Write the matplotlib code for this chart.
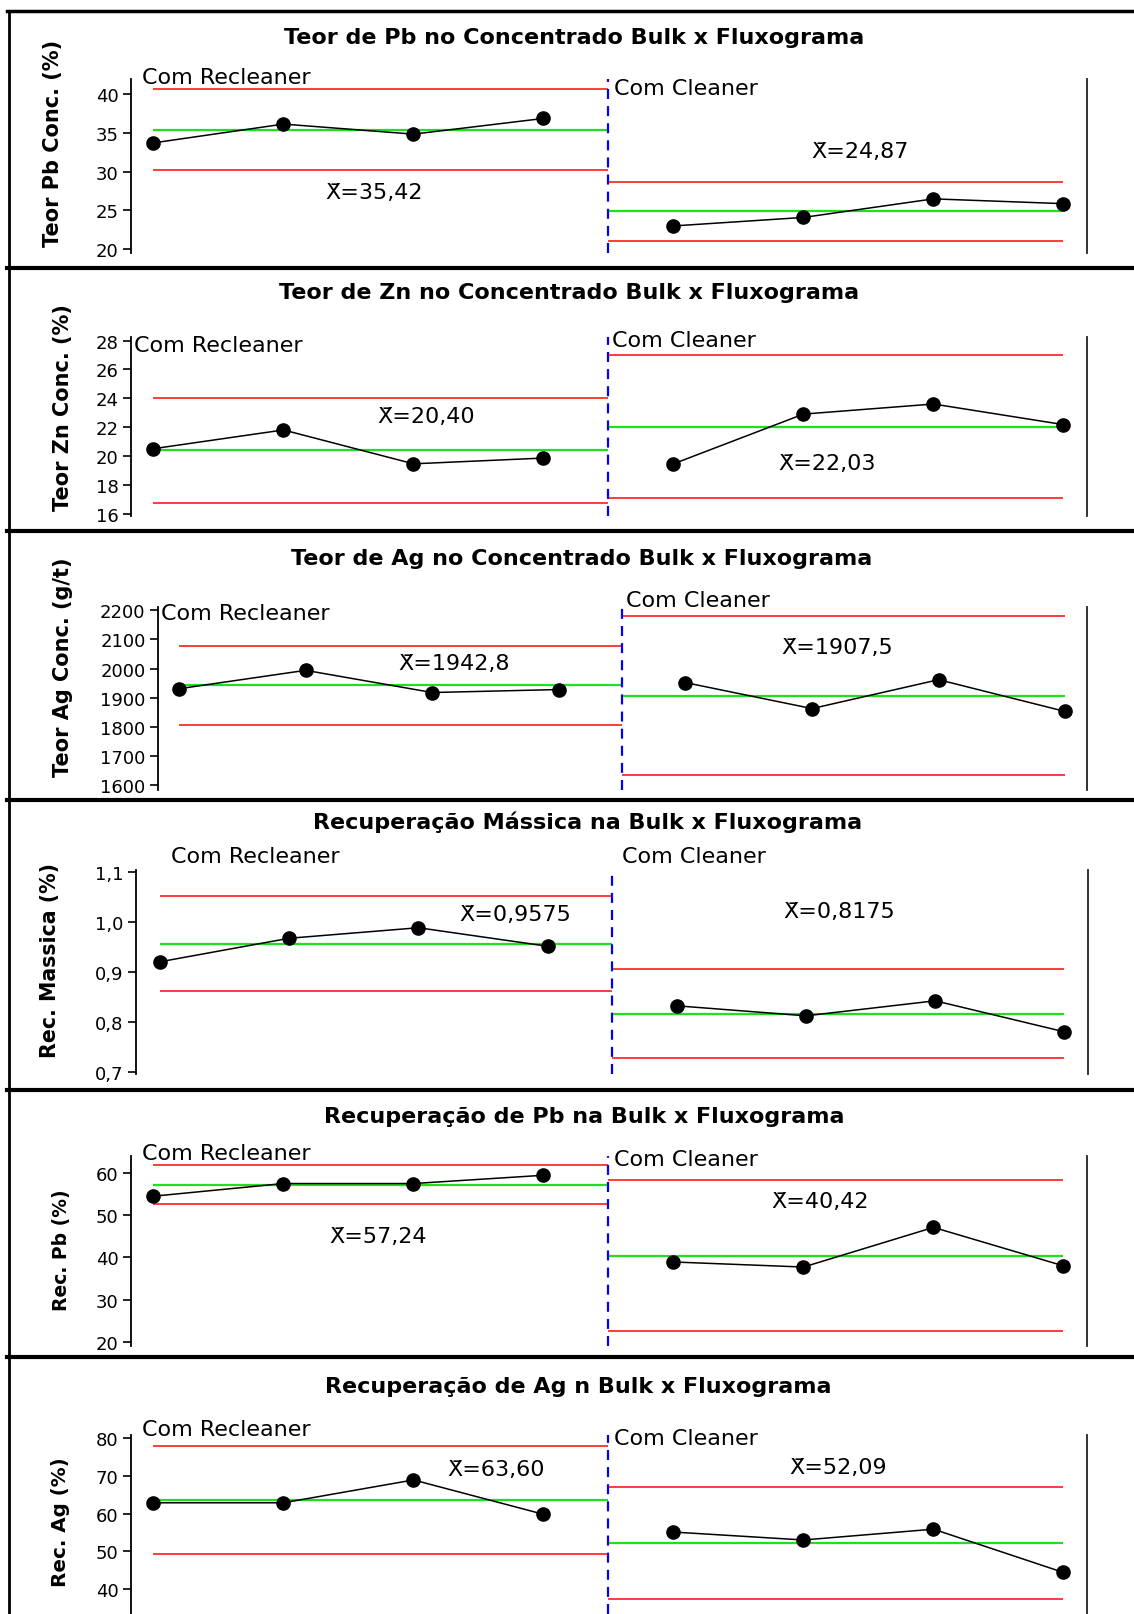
import matplotlib
matplotlib.use('Agg')
import matplotlib.pyplot as plt
from matplotlib import ticker
from matplotlib.lines import Line2D

# dados: 4 amostras com Recleaner e 4 com Cleaner
pb_rec = [33.74, 36.17, 34.87, 36.90]
pb_cln = [23.00, 24.10, 26.50, 25.88]
pb_mean = [35.42, 24.87]
pb_ucl = [40.65, 28.67]
pb_lcl = [30.20, 21.07]

zn_rec = [20.50, 21.80, 19.45, 19.85]
zn_cln = [19.45, 22.90, 23.60, 22.17]
zn_mean = [20.40, 22.03]
zn_ucl = [24.05, 26.98]
zn_lcl = [16.75, 17.08]

ag_rec = [1931, 1994, 1918, 1928.2]
ag_cln = [1952, 1863, 1962, 1853]
ag_mean = [1942.8, 1907.5]
ag_ucl = [2078, 2179]
ag_lcl = [1807, 1636]

mas_rec = [0.921, 0.968, 0.989, 0.952]
mas_cln = [0.833, 0.813, 0.843, 0.781]
mas_mean = [0.9575, 0.8175]
mas_ucl = [1.053, 0.907]
mas_lcl = [0.862, 0.728]

recpb_rec = [54.50, 57.50, 57.50, 59.46]
recpb_cln = [38.90, 37.70, 47.10, 37.98]
recpb_mean = [57.24, 40.42]
recpb_ucl = [61.94, 58.37]
recpb_lcl = [52.54, 22.47]

recag_rec = [62.85, 62.85, 68.90, 59.80]
recag_cln = [55.10, 53.00, 55.86, 44.40]
recag_mean = [63.60, 52.09]
recag_ucl = [77.80, 66.90]
recag_lcl = [49.40, 37.30]

amostra_rec = [1, 2, 3, 4]
amostra_cln = [5, 6, 7, 8]
stages = ['Com Recleaner', 'Com Cleaner']

W, H = 1134, 1615
fig = plt.figure(figsize=(W / 100, H / 100), dpi=100)


def fx(px):
    return px / W


def fy(py):
    return 1 - py / H


panels = [
    dict(title='Teor de Pb no Concentrado Bulk x Fluxograma', ylabel='Teor Pb Conc. (%)', ylsize=15,
         rec=pb_rec, cln=pb_cln, mean=pb_mean, ucl=pb_ucl, lcl=pb_lcl,
         box=(131, 80, 1087, 254), xlim=(0.827, 8.181), ylim=(19.5, 42.0),
         yticks=[20, 25, 30, 35, 40], tickfmt='{:.0f}', meanfmt='{:.2f}',
         title_at=(574, 38), ylabel_at=(53, 143),
         stage_at=[(0.91, 42.3), (4.54, 40.87)], mean_at=[(2.70, 27.37), (6.435, 32.67)]),
    dict(title='Teor de Zn no Concentrado Bulk x Fluxograma', ylabel='Teor Zn Conc. (%)', ylsize=15,
         rec=zn_rec, cln=zn_cln, mean=zn_mean, ucl=zn_ucl, lcl=zn_lcl,
         box=(131, 338, 1087, 516.7), xlim=(0.827, 8.181), ylim=(15.85, 28.25),
         yticks=[16, 18, 20, 22, 24, 26, 28], tickfmt='{:.0f}', meanfmt='{:.2f}',
         title_at=(569, 293), ylabel_at=(63, 408),
         stage_at=[(0.85, 27.7), (4.53, 28.05)], mean_at=[(3.10, 22.76), (6.18, 19.5)]),
    dict(title='Teor de Ag no Concentrado Bulk x Fluxograma', ylabel='Teor Ag Conc. (g/t)', ylsize=15,
         rec=ag_rec, cln=ag_cln, mean=ag_mean, ucl=ag_ucl, lcl=ag_lcl,
         box=(158, 608, 1087, 791.3), xlim=(0.834, 8.172), ylim=(1583, 2211),
         yticks=[1600, 1700, 1800, 1900, 2000, 2100, 2200], tickfmt='{:.0f}', meanfmt='{:.1f}',
         title_at=(582, 559), ylabel_at=(63, 667),
         stage_at=[(0.858, 2191), (4.527, 2234)], mean_at=[(3.17, 2019), (6.20, 2074)]),
    dict(title='Recuperação Mássica na Bulk x Fluxograma', ylabel='Rec. Massica (%)', ylsize=14.8,
         rec=mas_rec, cln=mas_cln, mean=mas_mean, ucl=mas_ucl, lcl=mas_lcl,
         box=(136, 870.7, 1088, 1075), xlim=(0.814, 8.183), ylim=(0.6967, 1.105),
         yticks=[0.7, 0.8, 0.9, 1.0, 1.1], tickfmt='{:.1f}', meanfmt='{:.4f}',
         title_at=(588, 822), ylabel_at=(50, 960),
         stage_at=[(1.085, 1.133), (4.576, 1.133)], mean_at=[(3.75, 1.0166), (6.26, 1.0232)]),
    dict(title='Recuperação de Pb na Bulk x Fluxograma', ylabel='Rec. Pb (%)', ylsize=13.5,
         rec=recpb_rec, cln=recpb_cln, mean=recpb_mean, ucl=recpb_ucl, lcl=recpb_lcl,
         box=(131, 1156.7, 1087, 1346.7), xlim=(0.827, 8.181), ylim=(19.05, 64.1),
         yticks=[20, 30, 40, 50, 60], tickfmt='{:.0f}', meanfmt='{:.2f}',
         title_at=(584, 1117), ylabel_at=(61, 1250),
         stage_at=[(0.91, 64.7), (4.54, 63.3)], mean_at=[(2.73, 45.1), (6.13, 53.4)]),
    dict(title='Recuperação de Ag n Bulk x Fluxograma', ylabel='Rec. Ag (%)', ylsize=14.3,
         rec=recag_rec, cln=recag_cln, mean=recag_mean, ucl=recag_ucl, lcl=recag_lcl,
         box=(131, 1436, 1087, 1615), xlim=(0.827, 8.181), ylim=(33.4, 80.8),
         yticks=[40, 50, 60, 70, 80], tickfmt='{:.0f}', meanfmt='{:.2f}',
         title_at=(578, 1387), ylabel_at=(61, 1522),
         stage_at=[(0.91, 82.4), (4.54, 80.0)], mean_at=[(3.635, 71.8), (6.27, 72.2)]),
]

for p in panels:
    l, t, r, b = p['box']
    ax = fig.add_axes([fx(l), fy(b), fx(r) - fx(l), (b - t) / H])
    ax.set_xlim(*p['xlim'])
    ax.set_ylim(*p['ylim'])

    # limites de controle e media por estagio
    div = (amostra_rec[-1] + amostra_cln[0]) / 2
    spans = [(amostra_rec[0], div), (div, amostra_cln[-1])]
    for k, (x0, x1) in enumerate(spans):
        ax.hlines([p['ucl'][k], p['lcl'][k]], x0, x1, colors='#ff1a1a', lw=1.2, zorder=2)
        ax.hlines(p['mean'][k], x0, x1, colors='#1fe01f', lw=1.6, zorder=2)
    ax.axvline(div, color='#0000ff', lw=1.6, dashes=(4.5, 3.2), zorder=3)

    xs = amostra_rec + amostra_cln
    ys = p['rec'] + p['cln']
    ax.plot(xs[:4], ys[:4], color='black', lw=1.1, marker='o', ms=9.5, zorder=5)
    ax.plot(xs[4:], ys[4:], color='black', lw=1.1, marker='o', ms=9.5, zorder=5)

    for k in range(2):
        sx, sy = p['stage_at'][k]
        ax.text(sx, sy, stages[k], ha='left', va='center', fontsize=16)
        mx, my = p['mean_at'][k]
        txt = 'X\u0304=' + p['meanfmt'].format(p['mean'][k]).replace('.', ',')
        ax.text(mx, my, txt, ha='center', va='center', fontsize=16)

    for s in ['top', 'bottom']:
        ax.spines[s].set_visible(False)
    ax.spines['left'].set_linewidth(1.3)
    ax.spines['right'].set_color('#222222')
    ax.spines['right'].set_linewidth(1.3)
    ax.set_xticks([])
    ax.set_yticks(p['yticks'])
    fmt = p['tickfmt']
    ax.yaxis.set_major_formatter(ticker.FuncFormatter(lambda v, pos, f=fmt: f.format(v).replace('.', ',')))
    ax.tick_params(axis='y', direction='out', length=6, width=1.2, labelsize=13, pad=3)

    ax.set_ylabel(p['ylabel'], fontsize=p['ylsize'], fontweight='bold')
    ax.yaxis.set_label_coords(fx(p['ylabel_at'][0]), fy(p['ylabel_at'][1]), transform=fig.transFigure)
    ax.yaxis.label.set_va('center')

    fig.text(fx(p['title_at'][0]), fy(p['title_at'][1]), p['title'],
             ha='center', va='center', fontsize=16, fontweight='bold')

# moldura e separadores
fig.add_artist(Line2D([fx(7), 1], [fy(12), fy(12)], transform=fig.transFigure, color='black', lw=2.5))
fig.add_artist(Line2D([fx(8.5), fx(8.5)], [fy(12), 0], transform=fig.transFigure, color='black', lw=2))
for y in [268.5, 532, 800.5, 1091, 1358]:
    fig.add_artist(Line2D([fx(7), 1], [fy(y), fy(y)], transform=fig.transFigure, color='black', lw=3))

fig.savefig('out.png', dpi=100)
